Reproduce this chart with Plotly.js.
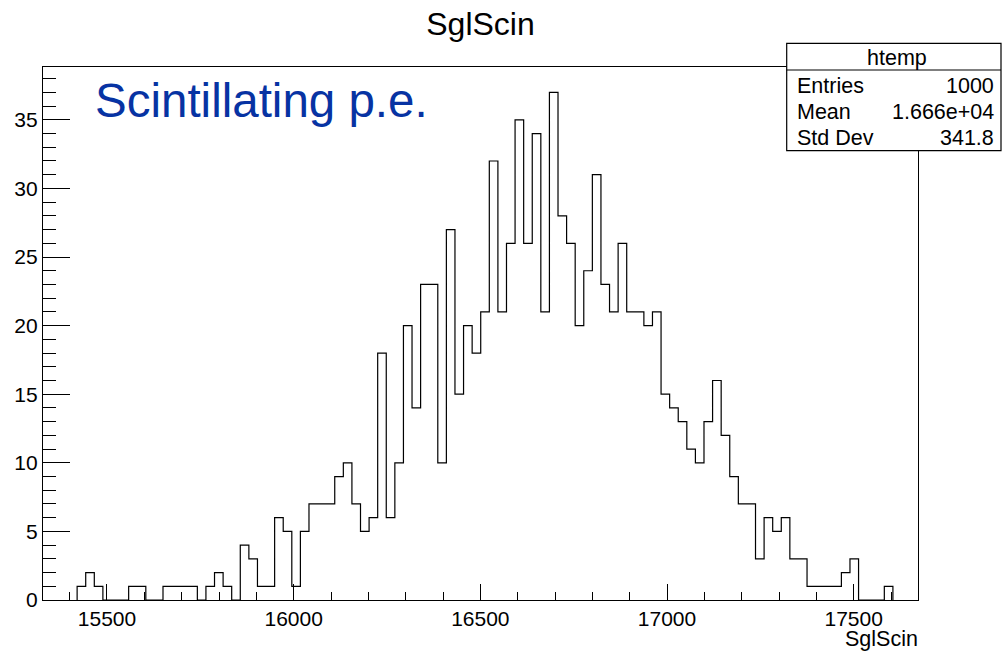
<!DOCTYPE html>
<html><head><meta charset="utf-8">
<script src="https://cdn.plot.ly/plotly-3.0.1.min.js"></script>
<style>html,body{margin:0;padding:0;background:#fff;} #chart{width:1002px;height:651px;}</style>
</head><body><div id="chart"></div>
<script>
// ---- data ----
const binStart = 15420;   // left edge of first filled bin
const binWidth = 23;
const counts = [1,2,1,0,0,0,1,1,0,0,
                1,1,1,1,0,1,2,1,0,4,
                3,1,1,6,5,1,5,7,7,7,
                9,10,7,5,6,18,6,10,20,14,
                23,23,10,27,15,20,18,21,32,21,
                26,35,26,34,21,37,28,26,20,24,
                31,23,21,26,21,21,20,21,15,14,
                13,11,10,13,16,12,9,7,7,3,
                6,5,6,3,3,1,1,1,1,2,
                3,0,0,0,1];
const xRange = [15328.6, 17672.2];
const yRange = [0, 38.85];
const xTickVals = [15500, 16000, 16500, 17000, 17500];
const yTickVals = [0, 5, 10, 15, 20, 25, 30, 35];
const histTitle = 'SglScin';
const xLabel = 'SglScin';
const note = 'Scintillating p.e.';
const statsName = 'htemp';
const statLabels = ['Entries', 'Mean', 'Std Dev'];
const statValues = ['1000', '1.666e+04', '341.8'];

// ---- geometry helpers ----
const W = 1002, H = 651, PL = 43, PR = 84, PT = 67, PB = 51;
const PW = W - PL - PR, PH = H - PT - PB;
const fx = px => (px - PL) / PW;
const fy = py => (H - PB - py) / PH;
const FONT = 'Liberation Sans, Arial, Helvetica, sans-serif';

// step outline
const edges = counts.map((_, i) => binStart + i * binWidth);
edges.push(binStart + counts.length * binWidth);
const xs = [edges[0]].concat(edges);
const ys = [0].concat(counts, [0]);

const trace = {
  type: 'scatter', mode: 'lines', x: xs, y: ys,
  line: {shape: 'hv', color: '#000', width: 1.2},
  hoverinfo: 'skip', showlegend: false
};

const axisCommon = {
  ticks: 'inside', tickcolor: '#000', tickwidth: 1,
  showline: true, linecolor: '#000', linewidth: 1.2, mirror: true,
  showgrid: false, zeroline: false,
  tickfont: {family: FONT, size: 21, color: '#000'},
  fixedrange: true
};

const statRowsY = [85.9, 111.9, 137.6];
const annotations = [
  {text: note, xref: 'paper', yref: 'paper', x: fx(93.5), y: fy(100.2),
   xanchor: 'left', yanchor: 'middle', showarrow: false, borderpad: 0,
   font: {family: FONT, size: 47.5, color: '#0733a3'}},
  {text: xLabel, xref: 'paper', yref: 'paper', x: fx(918.5), y: fy(638.5),
   xanchor: 'right', yanchor: 'middle', showarrow: false, borderpad: 0,
   font: {family: FONT, size: 21.5, color: '#000'}},
  {text: statsName, xref: 'paper', yref: 'paper', x: fx(897), y: fy(58.3),
   xanchor: 'center', yanchor: 'middle', showarrow: false, borderpad: 0,
   font: {family: FONT, size: 21.5, color: '#000'}}
];
statLabels.forEach((lab, i) => {
  annotations.push({text: lab, xref: 'paper', yref: 'paper', x: fx(796), y: fy(statRowsY[i]),
    xanchor: 'left', yanchor: 'middle', showarrow: false, borderpad: 0,
    font: {family: FONT, size: 21.5, color: '#000'}});
  annotations.push({text: statValues[i], xref: 'paper', yref: 'paper', x: fx(994.5), y: fy(statRowsY[i]),
    xanchor: 'right', yanchor: 'middle', showarrow: false, borderpad: 0,
    font: {family: FONT, size: 21.5, color: '#000'}});
});

const layout = {
  width: W, height: H,
  margin: {l: PL, r: PR, t: PT, b: PB, pad: 0},
  paper_bgcolor: '#fff', plot_bgcolor: '#fff',
  title: {text: histTitle, x: 0.5, xref: 'paper', xanchor: 'center',
          y: 1 - 23.9 / H, yref: 'container', yanchor: 'middle',
          font: {family: FONT, size: 32, color: '#000'}},
  xaxis: Object.assign({}, axisCommon, {
    range: xRange, tickmode: 'linear', tick0: xTickVals[0], dtick: xTickVals[1] - xTickVals[0],
    tickformat: 'd', ticklen: 16,
    minor: {dtick: 100, tick0: xTickVals[0], ticks: 'inside', ticklen: 8, tickcolor: '#000', tickwidth: 1}
  }),
  yaxis: Object.assign({}, axisCommon, {
    range: yRange, tickmode: 'linear', tick0: yTickVals[0], dtick: yTickVals[1] - yTickVals[0],
    ticklen: 27,
    minor: {dtick: 1, tick0: 0, ticks: 'inside', ticklen: 13, tickcolor: '#000', tickwidth: 1}
  }),
  shapes: [
    {type: 'rect', xref: 'paper', yref: 'paper', x0: fx(786.7), x1: fx(1001), y0: fy(150.7), y1: fy(43.3),
     line: {color: '#000', width: 1.2}, fillcolor: '#fff', layer: 'above'},
    {type: 'line', xref: 'paper', yref: 'paper', x0: fx(786.7), x1: fx(1001), y0: fy(70), y1: fy(70),
     line: {color: '#000', width: 1.2}, layer: 'above'}
  ],
  annotations: annotations,
  showlegend: false
};

Plotly.newPlot('chart', [trace], layout, {displayModeBar: false, staticPlot: true});
</script>
</body></html>
